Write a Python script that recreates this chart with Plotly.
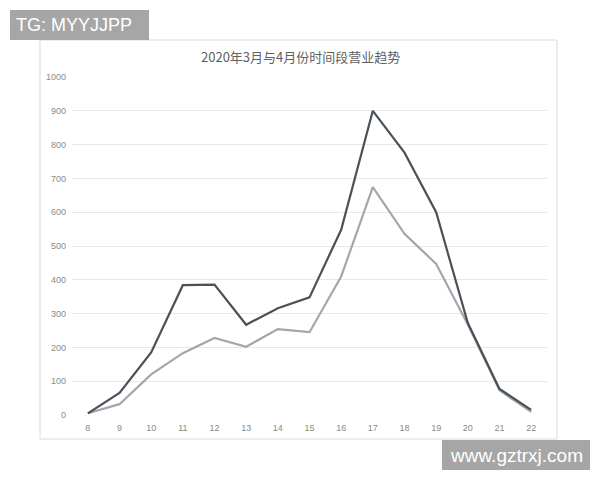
import plotly.graph_objects as go

# Hour of day (category axis) and sales in each hour
hours = ["8", "9", "10", "11", "12", "13", "14", "15", "16", "17", "18", "19", "20", "21", "22"]
series_march = [5, 65, 185, 384, 386, 267, 316, 348, 548, 900, 776, 600, 272, 77, 15]
series_april = [5, 32, 120, 183, 228, 202, 254, 245, 410, 674, 536, 447, 268, 73, 9]

TITLE = "2020年3月与4月份时间段营业趋势"

# the page body has an 8px margin, so the figure is a bit smaller and all
# pixel positions below are taken relative to the window and shifted by OFF
OFF = 8
W, H = 600 - OFF, 480 - OFF
# plot area in window pixels
PL, PR, PT, PB = 72, 547, 77, 415


def px(x):
    return (x - PL) / (PR - PL)


def py(y):
    return (PB - y) / (PB - PT)


fig = go.Figure()
fig.add_trace(go.Scatter(x=hours, y=series_april, mode="lines", name="4月",
                         line=dict(color="#a3a7ab", width=2.2)))
fig.add_trace(go.Scatter(x=hours, y=series_march, mode="lines", name="3月",
                         line=dict(color="#4a5159", width=2.2)))

shapes = [
    # chart frame
    dict(type="rect", xref="paper", yref="paper", x0=px(40), x1=px(557), y0=py(439), y1=py(40),
         line=dict(color="#dadada", width=1), fillcolor="rgba(0,0,0,0)", layer="below"),
    # watermark boxes
    dict(type="rect", xref="paper", yref="paper", x0=px(10), x1=px(149), y0=py(40), y1=py(10),
         line=dict(width=0), fillcolor="#a6a6a6"),
    dict(type="rect", xref="paper", yref="paper", x0=px(442), x1=px(590), y0=py(470), y1=py(440),
         line=dict(width=0), fillcolor="#a6a6a6"),
]

annotations = [
    dict(text=TITLE, xref="paper", yref="paper", x=px(300), y=py(57), xanchor="center", yanchor="middle",
         showarrow=False, font=dict(family="Noto Sans CJK SC", size=13, color="#5f5f5f")),
    dict(text="TG: MYYJJPP", xref="paper", yref="paper", x=px(14), y=py(25), xanchor="left", yanchor="middle",
         showarrow=False, font=dict(family="Liberation Sans", size=18, color="white")),
    dict(text="www.gztrxj.com", xref="paper", yref="paper", x=px(516), y=py(455), xanchor="center", yanchor="middle",
         showarrow=False, font=dict(family="Liberation Sans", size=19, color="white")),
]

fig.update_layout(
    width=W, height=H,
    margin=dict(l=PL - OFF, r=600 - PR, t=PT - OFF, b=480 - PB),
    paper_bgcolor="white", plot_bgcolor="white",
    showlegend=False,
    shapes=shapes,
    annotations=annotations,
    font=dict(family="Liberation Sans", size=9, color="#8a8a8a"),
)
fig.update_xaxes(type="category", range=[-0.5, len(hours) - 0.5], showgrid=False, zeroline=False,
                 showline=False, ticks="", ticklen=0, ticklabelstandoff=6,
                 tickfont=dict(size=9, color="#8a8a8a"))
fig.update_yaxes(range=[0, 1000], dtick=100, showgrid=True, gridcolor="#e8e8e8", gridwidth=1,
                 zeroline=False, showline=False, ticks="", ticklen=0, ticklabelstandoff=5,
                 tickfont=dict(size=9, color="#8a8a8a"))

fig.write_html("out.html")
